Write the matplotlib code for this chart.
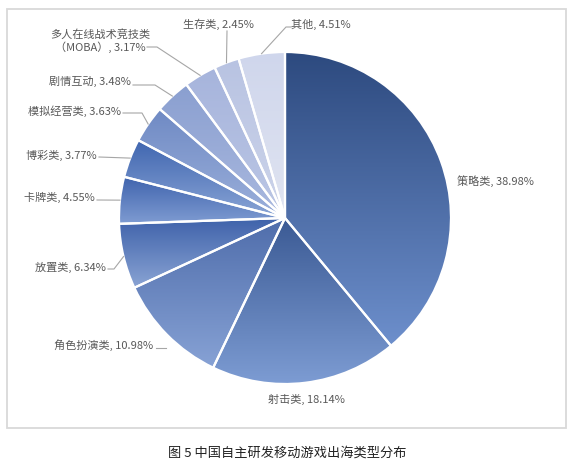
import matplotlib
matplotlib.use("Agg")
import matplotlib.pyplot as plt
import numpy as np
from matplotlib.colors import to_rgb
from matplotlib.patches import Rectangle

plt.rcParams['font.family'] = ['Noto Sans CJK SC', 'DejaVu Sans']

categories = ["策略类", "射击类", "角色扮演类", "放置类", "卡牌类", "博彩类",
              "模拟经营类", "剧情互动", "多人在线战术竞技类\n（MOBA）", "生存类", "其他"]
values = [38.98, 18.14, 10.98, 6.34, 4.55, 3.77, 3.63, 3.48, 3.17, 2.45, 4.51]

# gradient colours (top, bottom) per slice
grad_top = ["#2d4a7f", "#3b5a94", "#4f6dab", "#3f62aa", "#3f63ad", "#4066b0",
            "#6f8ac4", "#8a9fd0", "#a6b4dc", "#b8c3e2", "#cfd6ec"]
grad_bot = ["#6d8fcc", "#7d9cd3", "#87a2d5", "#8aa4d4", "#7f9cd2", "#8aa5d6",
            "#9cb0db", "#aab9df", "#bcc7e5", "#cdd4ea", "#e0e4f1"]

W, H = 577, 470
fig = plt.figure(figsize=(W / 100, H / 100), dpi=100)
ax = fig.add_axes([0, 0, 1, 1])
ax.set_xlim(0, W)
ax.set_ylim(H, 0)
ax.axis('off')

cx, cy, R = 285, 218, 166

wedges, _ = ax.pie(values, center=(cx, cy), radius=R, startangle=-90,
                   counterclock=True, frame=True,
                   wedgeprops=dict(edgecolor='white', linewidth=1.6))

for w, ct, cb in zip(wedges, grad_top, grad_bot):
    ext = w.get_path().get_extents(w.get_patch_transform())
    x0, y0, x1, y1 = ext.x0, ext.y0, ext.x1, ext.y1
    n = 256
    t = np.linspace(0, 1, n)[:, None]
    c0 = np.array(to_rgb(ct)); c1 = np.array(to_rgb(cb))
    img = (c0[None, :] * (1 - t) + c1[None, :] * t)[:, None, :]
    im = ax.imshow(img, extent=(x0, x1, y1, y0), origin='upper',
                   aspect='auto', interpolation='bilinear', zorder=1)
    im.set_clip_path(w)
    w.set_facecolor('none')
    w.set_zorder(2)

ax.set_xlim(0, W)
ax.set_ylim(H, 0)
ax.set_aspect('auto')
ax.axis('off')

# label layout
label_pos = [(457, 181, 'left'), (306, 399, 'center'), (153, 345, 'right'),
             (106, 267, 'right'), (95, 197, 'right'), (97, 155, 'right'),
             (121, 111, 'right'), (131, 81, 'right'), (100, 41, 'center'),
             (218, 24, 'center'), (321, 24, 'center')]
leaders = [None, None, ([(156, 348), (166, 348)], False),
           ([(108, 269), (114, 269)], True), ([(97, 200)], True),
           ([(99, 157)], True), ([(123, 113), (142, 113)], True),
           ([(133, 85), (155, 85)], True), ([(147, 47), (157, 47)], True),
           ([(227, 31)], True), ([(291, 27), (286, 27)], True)]

cum = np.cumsum([0] + values)
for i, (cat, v) in enumerate(zip(categories, values)):
    x, y, ha = label_pos[i]
    ax.text(x, y, f"{cat}, {v:.2f}%", ha=ha, va='center', fontsize=8,
            color='#595959', multialignment='center', zorder=5)
    ld = leaders[i]
    if ld is not None:
        pts, to_edge = ld
        pts = list(pts)
        if to_edge:
            mid = (cum[i] + cum[i + 1]) / 2 / 100 * 2 * np.pi
            pts.append((cx + R * np.sin(mid), cy - R * np.cos(mid)))
        xs, ys = zip(*pts)
        ax.plot(xs, ys, color='#a6a6a6', lw=0.8, zorder=4)

ax.add_patch(Rectangle((7, 9), 559, 419, fill=False, edgecolor='#d9d9d9',
                       lw=1.3, zorder=6))

ax.text(287, 453, "图 5 中国自主研发移动游戏出海类型分布", ha='center', va='center',
        fontsize=9.5, color='#222222')

fig.savefig("out.png", dpi=100)
